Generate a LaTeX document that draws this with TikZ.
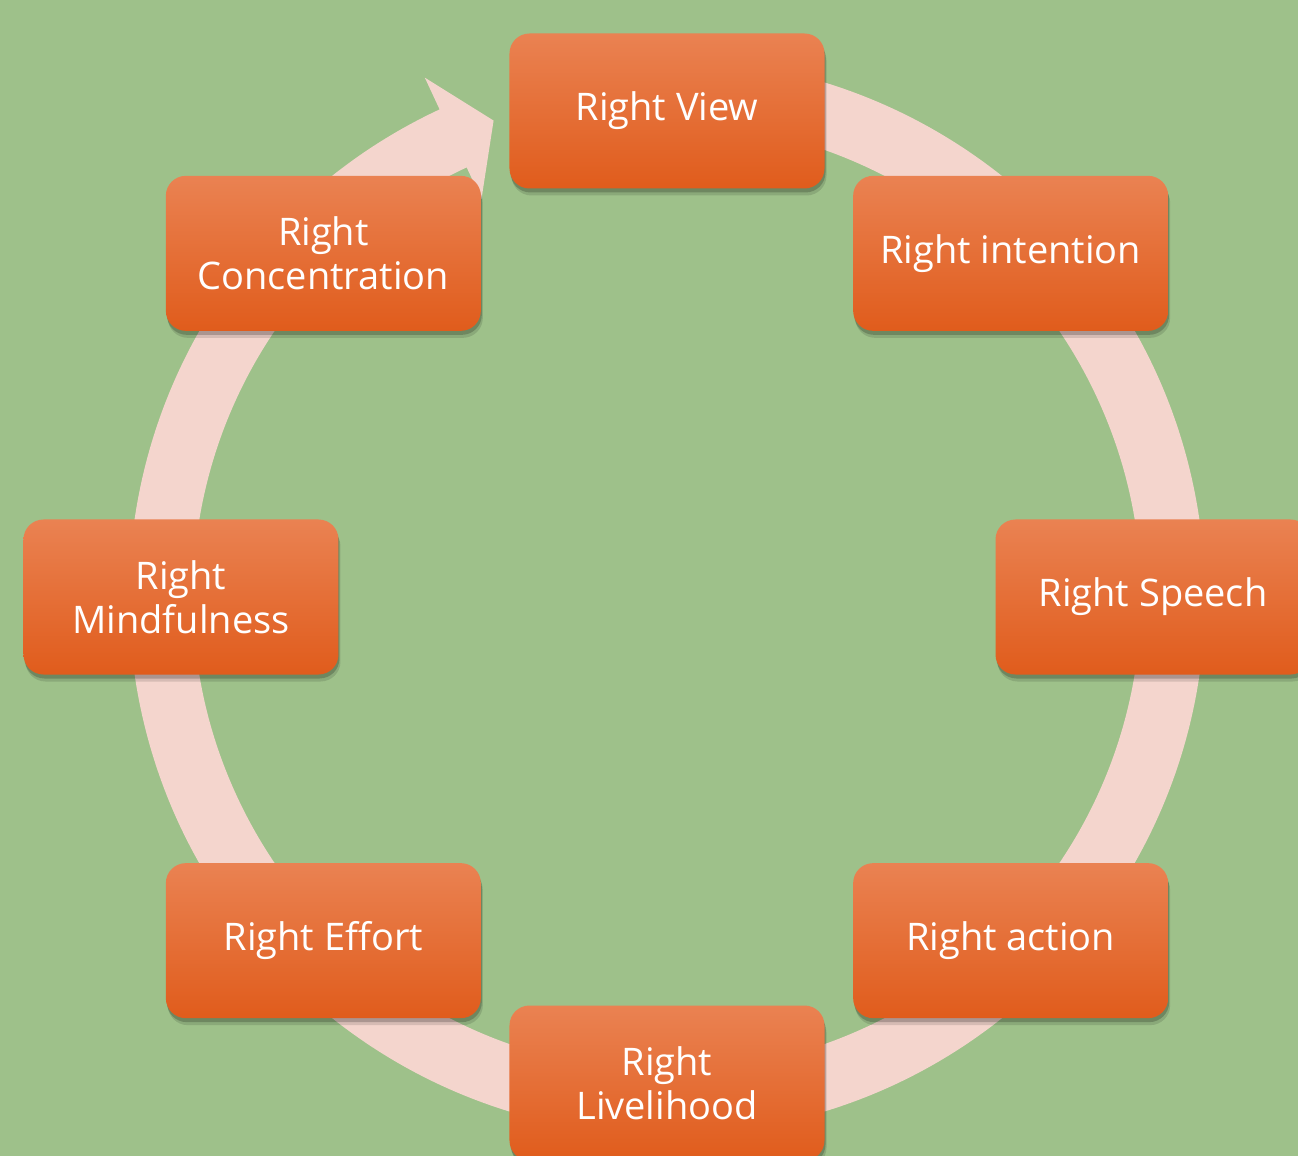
\documentclass[tikz,border=0pt]{standalone}
\usepackage{fontspec}
\setmainfont{Open Sans}
\usetikzlibrary{shadows}
\definecolor{meadow}{RGB}{158,193,138}
\definecolor{blush}{RGB}{244,213,205}
\definecolor{ember}{RGB}{238,108,42}
\definecolor{embertop}{RGB}{234,130,82}
\definecolor{emberlow}{RGB}{224,92,28}
\tikzset{
  pathstep/.style={rounded corners=20pt, minimum width=315pt, minimum height=155pt, inner sep=4pt, align=center, text=white, font=\fontsize{38}{44}\selectfont, top color=embertop, middle color=ember, bottom color=emberlow,
    drop shadow={shadow xshift=2pt, shadow yshift=-7pt, opacity=0.12, fill=black},
    drop shadow={shadow xshift=1pt, shadow yshift=-4pt, opacity=0.2, fill=black}},
  cycleband/.style={fill=blush, draw=none},
}

\begin{document}
\begin{tikzpicture}[x=1pt,y=1pt]
  \useasboundingbox (-667,-559) rectangle (631,597);
  \fill[meadow] (-667,-559) rectangle (631,597);

  % Cycle band with its arrowhead
  \fill[cycleband] (100:538) arc[start angle=100, end angle=-245, radius=538]
    -- (-245:573) -- (-250:507) -- (-245:439) -- (-245:474)
    arc[start angle=-245, end angle=100, radius=474] -- cycle;

  % The eight steps
  \node[pathstep] (view) at (90:486) {Right View};
  \node[pathstep] (intention) at (45:486) {Right intention};
  \node[pathstep] (speech) at (0:486) {Right Speech};
  \node[pathstep] (action) at (-45:486) {Right action};
  \node[pathstep] (livelihood) at (-90:486) {Right\\Livelihood};
  \node[pathstep] (effort) at (-135:486) {Right Effort};
  \node[pathstep] (mindfulness) at (180:486) {Right\\Mindfulness};
  \node[pathstep] (concentration) at (135:486) {Right\\Concentration};
\end{tikzpicture}
\end{document}
